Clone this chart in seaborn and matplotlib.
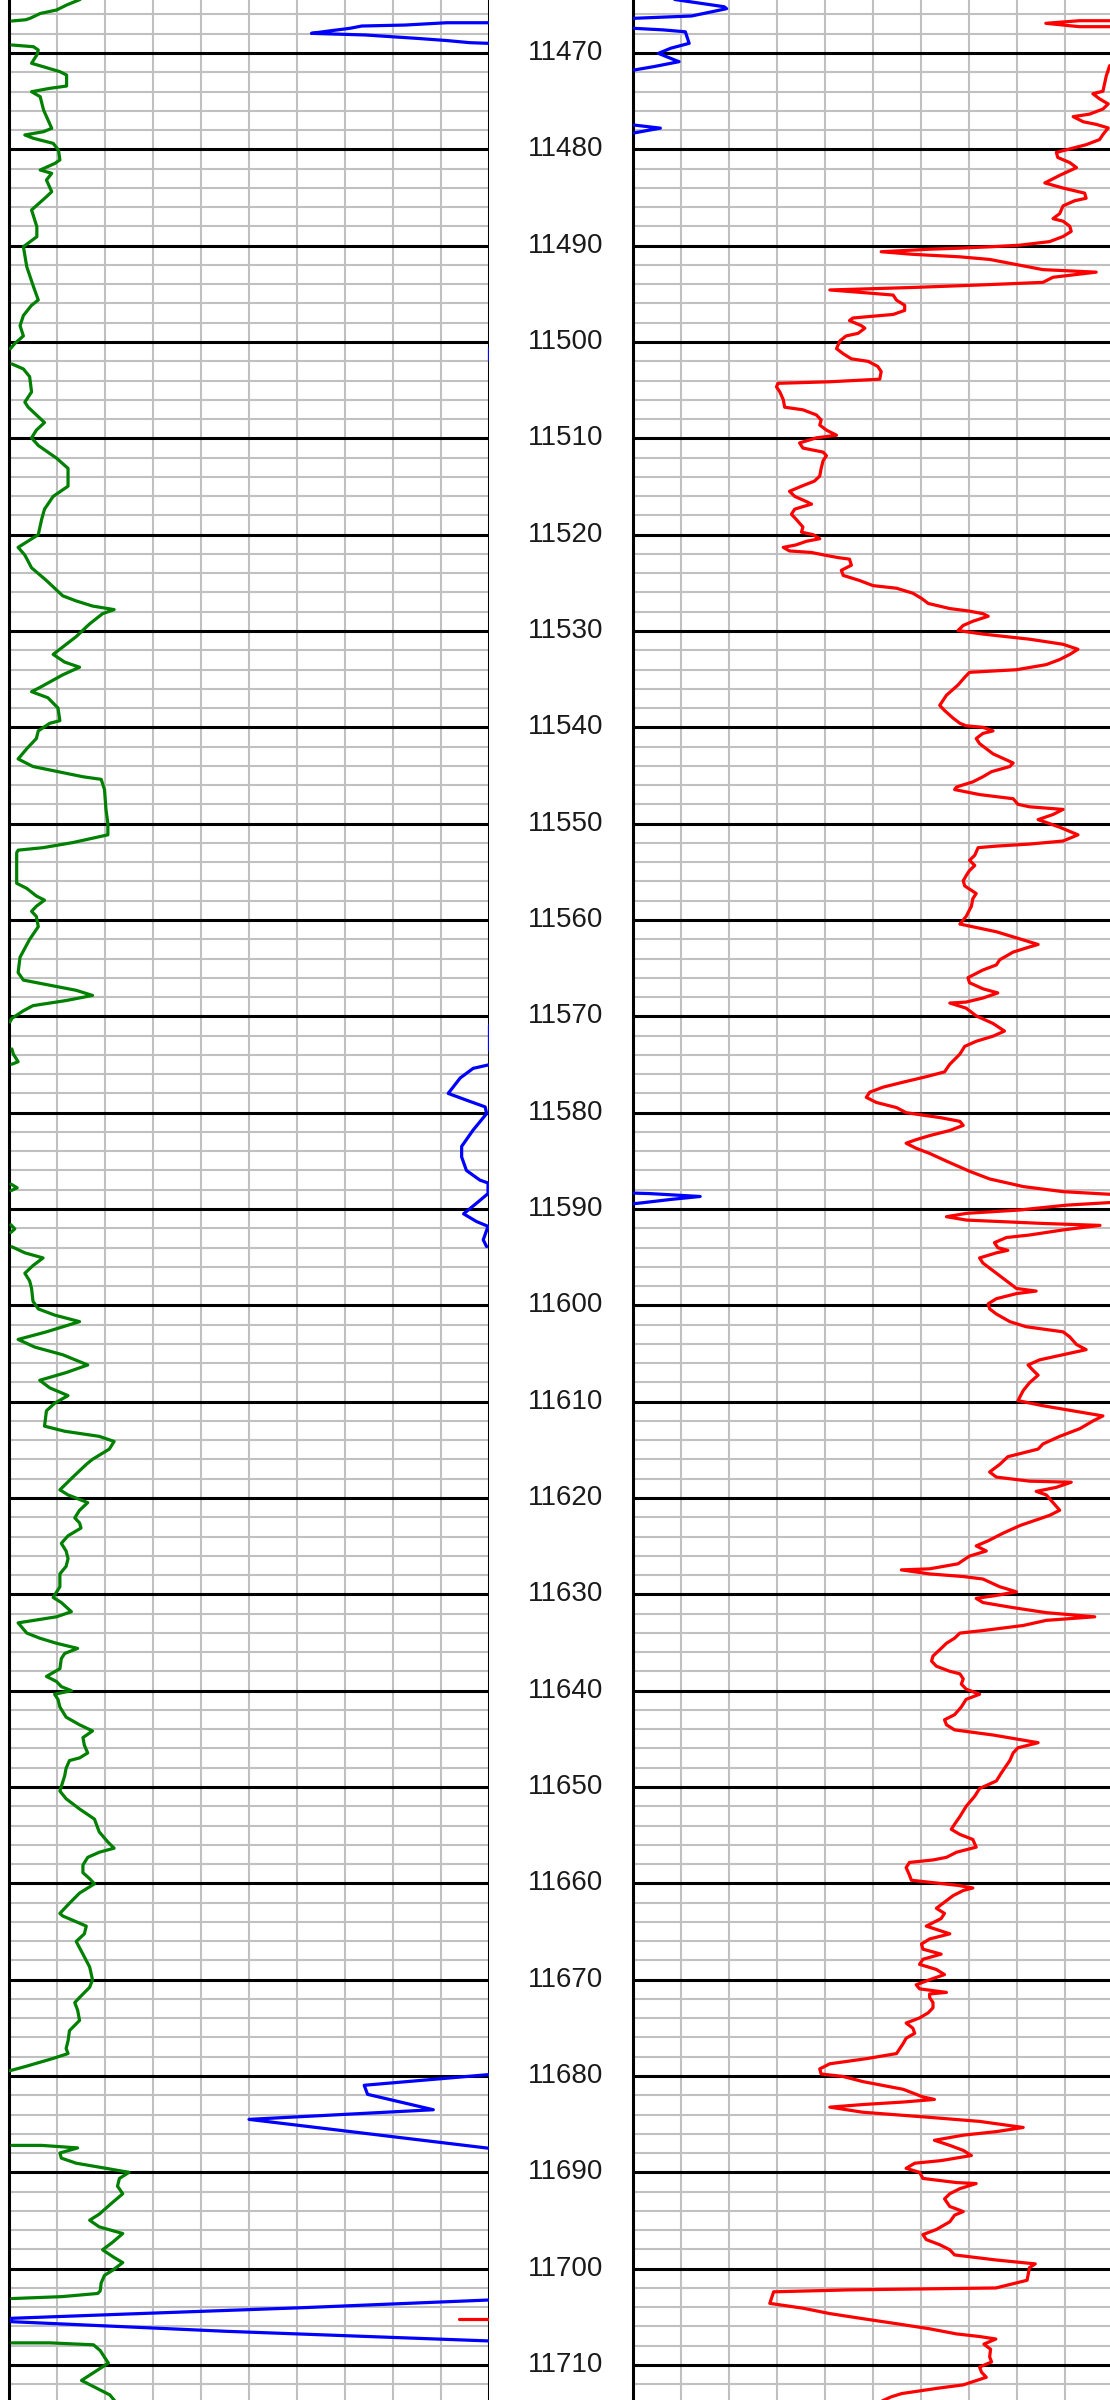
import numpy as np
import pandas as pd
import matplotlib
matplotlib.use("Agg")
import matplotlib.pyplot as plt
import seaborn as sns

# depth window shown in the picture (ft)
top_depth = 11464.5
bottom_depth = 11713.63
depth_labels = list(range(11470, 11711, 10))

GAP = (np.nan, np.nan)

green_left = [
    (11464.45, 1.48), (11465.02, 1.2), (11465.54, 0.99), (11465.9, 0.65), (11466.4, 0.44),
    (11466.55, 0.35), (11466.68, 0.06), GAP,
    (11469.17, 0.06), (11469.35, 0.51), (11469.69, 0.61), (11470.2, 0.58), (11471.07, 0.47),
    (11471.42, 0.71), (11471.94, 1.06), (11472.29, 1.2), (11473.43, 1.2), (11473.67, 0.85),
    (11474.02, 0.47), (11474.54, 0.65), (11475.92, 0.72), (11477.82, 0.89), (11478.17, 0.72),
    (11478.51, 0.33), (11478.86, 0.51), (11479.38, 0.92), (11480.07, 1.03), (11481.1, 1.06),
    (11481.45, 0.96), (11482.15, 0.65), (11482.49, 0.89), (11483.19, 0.78), (11484.4, 0.89),
    (11484.92, 0.78), (11486.3, 0.47), (11488.03, 0.58), (11489.07, 0.58), (11490.11, 0.3),
    (11492.19, 0.37), (11494.26, 0.51), (11495.64, 0.61), (11496.19, 0.47), (11497.25, 0.30),
    (11498.31, 0.23), (11499.37, 0.30), (11500.16, 0.12), (11500.69, 0.03), GAP,
    (11502.28, 0.06), (11502.80, 0.30), (11503.60, 0.43), (11505.19, 0.47), (11506.24, 0.33),
    (11506.77, 0.40), (11507.57, 0.57), (11508.36, 0.74), (11509.15, 0.57), (11509.95, 0.47),
    (11510.74, 0.61), (11512.06, 0.99), (11513.12, 1.23), (11514.97, 1.23), (11516.03, 0.92),
    (11517.35, 0.74), (11518.41, 0.68), (11520.00, 0.61), (11521.32, 0.19), (11522.12, 0.33),
    (11523.44, 0.47), (11524.76, 0.78), (11526.35, 1.12), (11526.88, 1.40), (11527.41, 1.74),
    (11527.78, 2.19), (11528.20, 1.95), (11529.26, 1.68), (11530.58, 1.40), (11532.43, 0.92),
    (11533.23, 1.16), (11533.76, 1.47), (11534.55, 1.12), (11535.87, 0.64), (11536.30, 0.47),
    (11536.93, 0.81), (11537.99, 1.02), (11539.31, 1.06), (11539.58, 0.85), (11540.37, 0.61),
    (11541.16, 0.57), (11542.22, 0.37), (11543.28, 0.19), (11544.07, 0.50), (11544.60, 1.02),
    (11545.13, 1.54), (11545.40, 1.92), (11546.46, 1.99), (11548.52, 2.02), (11550.00, 2.06),
    (11551.16, 2.06), (11551.96, 1.33), (11552.49, 0.71), (11552.75, 0.19), (11553.02, 0.16),
    (11556.19, 0.16), (11556.72, 0.37), (11557.51, 0.57), (11557.94, 0.74), (11558.57, 0.57),
    (11559.10, 0.47), (11559.63, 0.57), (11560.69, 0.61), (11562.01, 0.43), (11563.86, 0.23),
    (11565.45, 0.19), (11566.24, 0.30), (11566.77, 0.85), (11567.30, 1.40), (11567.83, 1.74),
    (11568.36, 1.19), (11568.89, 0.50), (11569.42, 0.30), (11570.21, 0.06), (11570.58, 0.02), GAP,
    (11573.39, 0.06), (11573.92, 0.09), (11574.71, 0.19), (11574.97, 0.06), GAP,
    (11587.41, 0.04), (11587.8, 0.17), (11588.10, 0.04), GAP,
    (11591.64, 0.04), (11592.06, 0.12), (11592.43, 0.04), GAP,
    (11593.92, 0.06), (11594.55, 0.33), (11595.08, 0.71), (11595.87, 0.50), (11596.67, 0.33),
    (11597.46, 0.43), (11598.25, 0.47), (11599.58, 0.50), (11600.37, 0.61), (11601.01, 0.95),
    (11601.69, 1.47), (11602.75, 0.78), (11603.54, 0.19), (11604.34, 0.54), (11605.13, 1.12),
    (11606.19, 1.64), (11606.98, 1.19), (11607.78, 0.64), (11608.57, 0.85), (11609.37, 1.23),
    (11610.16, 0.95), (11610.95, 0.78), (11612.54, 0.74), (11613.07, 1.16), (11613.60, 1.88),
    (11614.13, 2.19), (11614.92, 2.09), (11615.98, 1.74), (11616.51, 1.61), (11617.83, 1.33),
    (11619.15, 1.06), (11619.68, 1.23), (11620.48, 1.64), (11621.27, 1.47), (11622.06, 1.37),
    (11622.59, 1.47), (11623.12, 1.50), (11623.92, 1.23), (11624.71, 1.09), (11625.50, 1.19),
    (11626.30, 1.23), (11627.09, 1.19), (11627.88, 1.06), (11629.21, 1.06), (11630.32, 0.92),
    (11630.85, 1.09), (11631.80, 1.30), (11632.33, 0.99), (11632.96, 0.19), (11634.02, 0.37),
    (11634.55, 0.64), (11635.08, 0.99), (11635.61, 1.43), (11636.14, 1.16), (11636.67, 1.09),
    (11637.72, 1.06), (11638.52, 0.78), (11639.05, 0.99), (11639.58, 1.09), (11640.00, 1.30),
    (11640.37, 0.95), (11640.90, 1.02), (11641.69, 1.06), (11642.75, 1.19), (11643.54, 1.47),
    (11644.18, 1.74), (11644.87, 1.54), (11645.66, 1.57), (11646.46, 1.64), (11646.98, 1.47),
    (11647.25, 1.26), (11648.04, 1.19), (11648.84, 1.16), (11650.42, 1.06), (11651.22, 1.19),
    (11652.28, 1.47), (11653.33, 1.78), (11654.66, 1.88), (11655.71, 2.06), (11656.35, 2.19),
    (11656.77, 1.88), (11657.30, 1.64), (11658.10, 1.54), (11658.89, 1.54), (11659.52, 1.68),
    (11660.05, 1.78), (11661.01, 1.47), (11662.06, 1.26), (11663.12, 1.06), (11663.39, 1.12),
    (11663.92, 1.37), (11664.44, 1.61), (11665.24, 1.57), (11666.03, 1.40), (11667.35, 1.54),
    (11668.68, 1.68), (11670.00, 1.74), (11670.79, 1.68), (11671.85, 1.47), (11672.38, 1.37),
    (11673.17, 1.43), (11674.23, 1.47), (11675.29, 1.26), (11676.35, 1.23), (11677.14, 1.19),
    (11677.67, 1.23), (11678.2, 0.9), (11679.0, 0.35), (11679.45, 0.02), GAP,
    (11687.2, 0.06), (11687.2, 0.68), (11687.46, 1.43), (11687.99, 1.06), (11688.52, 1.09),
    (11689.05, 1.40), (11689.58, 2.02), (11690.00, 2.50), (11690.63, 2.30), (11691.43, 2.26),
    (11692.22, 2.37), (11693.28, 2.12), (11694.34, 1.88), (11694.97, 1.68), (11695.66, 1.88),
    (11696.35, 2.37), (11697.25, 2.16), (11698.04, 1.95), (11698.84, 2.19), (11699.37, 2.37),
    (11700.16, 2.16), (11700.69, 1.99), (11701.48, 1.92), (11702.3, 1.9), (11702.57, 1.85),
    (11702.9, 1.1), (11703.1, 0.06), GAP,
    (11707.7, 0.06), (11707.7, 0.85), (11707.9, 1.76), (11708.5, 1.9), (11709.8, 2.07),
    (11711.6, 1.51), (11713.1, 2.1), (11713.7, 2.2),
]

blue_left = [
    (11466.86, 10.0), (11466.86, 9.12), (11467.1, 8.25), (11467.2, 7.35), (11467.44, 7.1),
    (11467.7, 6.69), (11467.96, 6.3), (11468.13, 7.42), (11468.48, 8.49), (11468.7, 9.1),
    (11468.93, 9.6), (11469.0, 10.0), GAP,
    (11500.6, 10.0), (11501.9, 10.0), GAP,
    (11570.9, 10.0), (11573.5, 10.0), GAP,
    (11575.05, 9.98), (11575.4, 9.67), (11576.4, 9.4), (11578.0, 9.15), (11578.7, 9.53),
    (11579.4, 9.92), (11580.1, 9.95), (11581.8, 9.67), (11583.5, 9.43), (11584.6, 9.43),
    (11586.0, 9.53), (11587.0, 9.81), (11587.3, 9.98), (11588.4, 9.98), (11589.4, 9.74),
    (11590.5, 9.47), (11591.3, 9.74), (11591.8, 9.98), (11593.2, 9.88), (11593.9, 9.95), GAP,
    (11679.85, 10.0), (11680.96, 7.4), (11681.9, 7.47), (11683.5, 8.84), (11684.5, 5.0),
    (11687.5, 10.0), GAP,
    (11703.25, 10.0), (11704.05, 6.1), (11704.7, 2.49), (11705.15, 0.05), (11705.5, 0.05),
    (11706.5, 4.53), (11707.5, 10.0),
]

red_left = [(11705.2, 9.38), (11705.2, 10.0)]

blue_right = [
    (11464.45, 0.87), (11465.2, 1.9), (11465.4, 1.95), (11466.16, 1.22), (11466.4, 0.02), GAP,
    (11467.44, 0.02), (11467.6, 0.62), (11467.8, 1.09), (11469.0, 1.17), (11469.5, 0.79),
    (11470.04, 0.53), (11470.73, 0.87), (11470.9, 0.96), (11471.4, 0.45), (11471.77, 0.02), GAP,
    (11477.48, 0.02), (11477.8, 0.57), (11478.3, 0.02), GAP,
    (11588.35, 0.02), (11588.4, 0.35), (11588.7, 1.4), (11589.0, 0.8), (11589.35, 0.2),
    (11589.45, 0.02),
]

red_right = [
    (11466.65, 10.3), (11466.65, 9.3), (11466.92, 8.6), (11467.27, 9.3), (11467.27, 10.3), GAP,
    (11471.0, 10.3), (11471.32, 9.93), (11472.38, 9.86), (11473.97, 9.79), (11474.23, 9.58),
    (11474.76, 9.72), (11475.29, 9.90), (11475.82, 9.79), (11476.35, 9.51), (11476.61, 9.17),
    (11477.14, 9.38), (11477.41, 9.65), (11477.78, 9.90), (11478.47, 9.79), (11478.99, 9.72),
    (11479.52, 9.44), (11480.05, 9.03), (11480.32, 8.82), (11480.85, 8.85), (11481.38, 9.10),
    (11481.90, 9.24), (11482.70, 8.89), (11483.49, 8.58), (11484.02, 8.96), (11484.55, 9.41),
    (11485.08, 9.44), (11485.34, 9.20), (11485.87, 8.96), (11486.67, 8.89), (11487.20, 8.75),
    (11487.46, 8.96), (11487.99, 9.10), (11488.52, 9.13), (11489.05, 8.96), (11489.58, 8.68),
    (11489.95, 8.06), (11490.11, 7.47), (11490.26, 6.81), (11490.37, 6.18), (11490.63, 5.17),
    (11490.90, 5.83), (11491.16, 6.81), (11491.43, 7.43), (11491.96, 7.99), (11492.49, 8.54),
    (11492.75, 9.65), (11493.28, 8.75), (11493.81, 8.54), (11494.07, 7.29), (11494.34, 5.83),
    (11494.60, 4.10), (11494.87, 4.79), (11495.13, 5.42), (11495.66, 5.49), (11496.19, 5.66),
    (11496.72, 5.66), (11497.14, 5.42), (11497.51, 4.58), (11497.78, 4.51), (11498.31, 4.76),
    (11498.57, 4.83), (11499.10, 4.69), (11499.37, 4.44), (11499.89, 4.31), (11500.69, 4.24),
    (11501.22, 4.38), (11501.75, 4.55), (11502.01, 4.90), (11502.54, 5.10), (11503.07, 5.17),
    (11503.86, 5.14), (11504.13, 4.10), (11504.29, 3.02), (11504.66, 2.99), (11505.19, 3.06),
    (11505.98, 3.13), (11506.77, 3.16), (11507.04, 3.54), (11507.57, 3.82), (11508.10, 3.92),
    (11508.62, 3.89), (11509.15, 4.03), (11509.68, 4.24), (11509.95, 3.82), (11510.48, 3.47),
    (11511.01, 3.54), (11511.43, 3.96), (11511.80, 4.03), (11512.33, 3.96), (11513.12, 3.92),
    (11513.92, 3.89), (11514.44, 3.78), (11514.97, 3.51), (11515.50, 3.26), (11516.03, 3.37),
    (11516.56, 3.61), (11516.83, 3.72), (11517.09, 3.54), (11517.35, 3.37), (11517.88, 3.30),
    (11518.41, 3.40), (11519.21, 3.54), (11519.74, 3.51), (11520.00, 3.75), (11520.42, 3.89),
    (11520.69, 3.61), (11521.06, 3.40), (11521.32, 3.13), (11521.69, 3.26), (11521.85, 3.72),
    (11522.12, 3.99), (11522.38, 4.27), (11522.54, 4.51), (11523.17, 4.55), (11523.70, 4.34),
    (11524.23, 4.38), (11524.76, 4.72), (11525.29, 5.00), (11525.56, 5.49), (11526.08, 5.83),
    (11526.61, 6.01), (11527.14, 6.15), (11527.67, 6.60), (11527.94, 7.01), (11528.20, 7.29),
    (11528.47, 7.40), (11528.99, 7.08), (11529.42, 6.88), (11529.95, 6.77), (11530.32, 7.29),
    (11530.85, 8.26), (11531.38, 8.96), (11531.90, 9.27), (11532.43, 9.10), (11532.96, 8.89),
    (11533.49, 8.61), (11534.02, 7.99), (11534.29, 7.01), (11534.81, 6.91), (11535.61, 6.77),
    (11536.67, 6.53), (11537.72, 6.39), (11538.25, 6.49), (11539.05, 6.67), (11539.58, 6.81),
    (11539.84, 6.94), (11540.00, 7.29), (11540.37, 7.50), (11540.63, 7.29), (11541.16, 7.15),
    (11541.69, 7.22), (11542.75, 7.50), (11543.70, 7.92), (11544.07, 7.85), (11544.60, 7.47),
    (11545.13, 7.29), (11545.66, 7.08), (11546.19, 6.74), (11546.46, 6.70), (11546.98, 7.22),
    (11547.41, 7.92), (11547.99, 8.02), (11548.25, 8.26), (11548.52, 8.96), (11549.05, 8.75),
    (11549.58, 8.44), (11550.37, 8.89), (11551.16, 9.27), (11551.80, 8.96), (11552.12, 8.26),
    (11552.33, 7.57), (11552.49, 7.19), (11553.28, 7.12), (11553.81, 7.01), (11554.34, 7.12),
    (11554.87, 7.01), (11555.40, 6.94), (11555.93, 6.88), (11556.46, 6.91), (11557.25, 7.15),
    (11557.78, 7.08), (11558.57, 7.05), (11559.63, 6.94), (11560.42, 6.81), (11561.22, 7.57),
    (11561.75, 7.92), (11562.54, 8.44), (11562.80, 8.26), (11563.33, 7.92), (11564.13, 7.64),
    (11564.66, 7.57), (11565.19, 7.29), (11565.98, 6.98), (11566.51, 7.01), (11567.14, 7.29),
    (11567.57, 7.60), (11568.10, 7.29), (11568.52, 6.94), (11568.62, 6.60), (11569.15, 6.94),
    (11569.95, 7.15), (11570.74, 7.50), (11571.53, 7.74), (11572.06, 7.50), (11572.59, 7.15),
    (11573.12, 6.91), (11573.92, 6.81), (11574.97, 6.60), (11575.77, 6.49), (11576.30, 6.08),
    (11576.83, 5.63), (11577.35, 5.21), (11577.88, 4.93), (11578.41, 4.86), (11578.94, 5.07),
    (11579.47, 5.49), (11580.00, 5.69), (11580.53, 6.42), (11580.90, 6.81), (11581.32, 6.88),
    (11581.85, 6.60), (11582.38, 6.18), (11582.80, 5.90), (11583.17, 5.69), (11583.70, 5.90),
    (11584.23, 6.18), (11585.03, 6.53), (11586.08, 7.01), (11586.88, 7.43), (11587.67, 8.13),
    (11588.20, 8.96), (11588.47, 9.93), (11588.6, 10.4), (11589.2, 10.4), (11589.35, 9.87),
    (11589.6, 9.03), (11590.1, 8.06), (11590.45, 6.95), (11590.8, 6.53), (11591.15, 6.95),
    (11591.5, 8.55), (11591.7, 9.73), (11592.17, 8.96), (11592.70, 8.26), (11592.96, 7.78),
    (11593.49, 7.53), (11594.02, 7.60), (11594.29, 7.81), (11594.55, 7.57), (11595.08, 7.22),
    (11595.61, 7.29), (11596.14, 7.43), (11596.67, 7.57), (11597.46, 7.78), (11598.25, 7.99),
    (11598.52, 8.40), (11598.78, 7.99), (11599.31, 7.57), (11599.84, 7.40), (11600.37, 7.43),
    (11600.90, 7.57), (11601.69, 7.85), (11602.22, 8.19), (11602.75, 8.96), (11603.28, 9.10),
    (11604.07, 9.24), (11604.60, 9.44), (11605.13, 8.96), (11605.66, 8.47), (11606.19, 8.23),
    (11606.72, 8.33), (11607.25, 8.44), (11608.04, 8.26), (11608.84, 8.13), (11609.89, 8.02),
    (11610.42, 8.54), (11610.95, 9.17), (11611.48, 9.79), (11612.01, 9.58), (11612.80, 9.31),
    (11613.60, 8.89), (11614.39, 8.54), (11614.92, 8.44), (11615.71, 7.81), (11616.51, 7.64),
    (11617.30, 7.43), (11617.83, 7.57), (11618.25, 8.26), (11618.36, 9.13), (11618.89, 8.82),
    (11619.31, 8.40), (11619.68, 8.61), (11620.48, 8.75), (11621.27, 8.89), (11621.80, 8.68),
    (11622.33, 8.37), (11622.86, 8.06), (11623.65, 7.71), (11624.44, 7.40), (11624.97, 7.15),
    (11625.50, 7.36), (11626.03, 7.01), (11626.83, 6.77), (11627.35, 6.18), (11627.46, 5.59),
    (11627.88, 6.18), (11628.15, 6.88), (11628.41, 7.29), (11629.21, 7.64), (11629.74, 7.99),
    (11630.11, 7.57), (11630.42, 7.15), (11630.85, 7.29), (11631.38, 7.92), (11631.90, 8.61),
    (11632.33, 9.62), (11632.70, 8.61), (11633.23, 8.13), (11633.76, 7.29), (11634.02, 6.81),
    (11634.55, 6.70), (11635.08, 6.53), (11635.61, 6.42), (11636.40, 6.25), (11636.93, 6.22),
    (11637.46, 6.32), (11637.99, 6.60), (11638.25, 6.81), (11638.78, 6.88), (11639.31, 6.84),
    (11639.84, 6.94), (11640.37, 7.22), (11640.90, 6.94), (11641.69, 6.84), (11642.49, 6.70),
    (11643.02, 6.49), (11643.54, 6.53), (11644.07, 6.70), (11644.60, 7.50), (11645.13, 8.13),
    (11645.40, 8.44), (11645.93, 8.02), (11646.46, 7.92), (11647.25, 7.85), (11648.57, 7.67),
    (11649.37, 7.57), (11650.16, 7.22), (11650.95, 7.12), (11652.01, 6.94), (11653.07, 6.81),
    (11653.86, 6.70), (11654.39, 6.63), (11654.92, 6.81), (11655.45, 7.08), (11656.24, 7.15),
    (11656.77, 6.74), (11657.30, 6.53), (11657.57, 6.25), (11657.83, 5.76), (11658.36, 5.69),
    (11659.15, 5.76), (11659.68, 5.80), (11660.21, 6.77), (11660.48, 7.08), (11660.74, 6.88),
    (11661.27, 6.67), (11661.80, 6.53), (11662.59, 6.32), (11663.12, 6.49), (11663.65, 6.42),
    (11664.44, 6.11), (11665.24, 6.60), (11665.77, 6.18), (11666.30, 6.01), (11666.83, 6.04),
    (11667.35, 6.42), (11667.88, 6.04), (11668.41, 5.97), (11668.94, 6.32), (11669.47, 6.49),
    (11670.00, 6.18), (11670.53, 5.90), (11670.95, 5.97), (11671.32, 6.53), (11671.48, 6.18),
    (11671.85, 6.18), (11672.38, 6.25), (11672.91, 6.25), (11673.44, 6.15), (11673.97, 5.97),
    (11674.50, 5.69), (11675.03, 5.83), (11675.56, 5.87), (11676.08, 5.69), (11676.61, 5.63),
    (11677.14, 5.56), (11677.67, 5.49), (11678.20, 4.86), (11678.73, 4.10), (11679.26, 3.89),
    (11679.79, 3.92), (11680.05, 4.38), (11680.58, 4.79), (11681.38, 5.63), (11682.17, 6.04),
    (11682.43, 6.28), (11682.70, 5.63), (11682.96, 4.79), (11683.23, 4.10), (11683.76, 4.79),
    (11684.29, 6.18), (11684.71, 7.22), (11685.34, 8.13), (11685.77, 7.57), (11686.14, 6.88),
    (11686.67, 6.28), (11687.20, 6.60), (11687.72, 6.88), (11688.25, 7.05), (11688.78, 6.42),
    (11689.05, 5.87), (11689.58, 5.69), (11690.00, 5.97), (11690.63, 6.04), (11691.06, 6.74),
    (11691.16, 7.15), (11691.69, 6.81), (11692.22, 6.60), (11692.75, 6.49), (11693.54, 6.60),
    (11694.07, 6.88), (11694.44, 6.70), (11695.13, 6.60), (11695.93, 6.32), (11696.46, 6.04),
    (11696.98, 6.11), (11697.51, 6.39), (11698.04, 6.60), (11698.57, 6.70), (11699.10, 7.57),
    (11699.5, 8.38), (11699.89, 8.26), (11701.2, 8.21), (11702.0, 7.56), (11702.2, 4.5),
    (11702.4, 2.93), (11703.6, 2.85), (11704.1, 3.54), (11704.66, 4.10), (11705.19, 4.79),
    (11705.71, 5.49), (11706.24, 6.18), (11706.77, 6.74), (11707.04, 7.22), (11707.3, 7.56),
    (11707.83, 7.31), (11708.36, 7.45), (11709.15, 7.43), (11709.68, 7.47), (11710.21, 7.22),
    (11710.74, 7.26), (11711.27, 7.36), (11712.06, 6.88), (11712.4, 6.36), (11712.96, 5.6),
    (11713.3, 5.38), (11713.7, 5.2),
]


def log_frame(rows):
    df = pd.DataFrame(rows, columns=["depth", "value"])
    df["seg"] = df["depth"].isna().cumsum()
    return df.dropna()


sns.set_style("white")
plt.rcParams["font.family"] = ["Liberation Sans", "DejaVu Sans"]

W, H = 1110, 2400
fig = plt.figure(figsize=(W / 100, H / 100), dpi=100)
ax_l = fig.add_axes([9 / W, 0, 480 / W, 1])
ax_d = fig.add_axes([489 / W, 0, 144 / W, 1])
ax_r = fig.add_axes([633 / W, 0, 480 / W, 1])

grey = "#c0c0c0"
for ax in (ax_l, ax_r):
    ax.set_xlim(0, 10)
    ax.set_ylim(bottom_depth, top_depth)
    for d in range(11466, 11714, 2):
        if d % 10 == 0:
            ax.axhline(d, color="black", lw=2.2, zorder=1.5)
        else:
            ax.axhline(d, color=grey, lw=1.5, zorder=1)
    for v in range(1, 10):
        ax.axvline(v, color=grey, lw=1.5, zorder=1)

curves = [
    (ax_l, green_left, "#008000"),
    (ax_l, blue_left, "#0000ff"),
    (ax_l, red_left, "#ff0000"),
    (ax_r, blue_right, "#0000ff"),
    (ax_r, red_right, "#ff0000"),
]
for ax, rows, col in curves:
    sns.lineplot(data=log_frame(rows), x="value", y="depth", units="seg",
                 estimator=None, sort=False, color=col, lw=2.3, ax=ax,
                 legend=False, zorder=3)

ax_d.set_xlim(0, 10)
ax_d.set_ylim(bottom_depth, top_depth)
for d in depth_labels:
    ax_d.text(5.3, d, str(d), ha="center", va="center", fontsize=20, color="#1a1a1a")

for ax in (ax_l, ax_d, ax_r):
    ax.set_xticks([])
    ax.set_yticks([])
    ax.set_xlabel("")
    ax.set_ylabel("")
    ax.spines["top"].set_visible(False)
    ax.spines["bottom"].set_visible(False)
    for s in ("left", "right"):
        ax.spines[s].set_linewidth(2.2)
        ax.spines[s].set_color("black")
        ax.spines[s].set_zorder(2.5)
ax_d.spines["left"].set_visible(False)
ax_d.spines["right"].set_visible(False)
ax_l.set_ylim(bottom_depth, top_depth)
ax_r.set_ylim(bottom_depth, top_depth)

fig.savefig("out.png", dpi=100)
